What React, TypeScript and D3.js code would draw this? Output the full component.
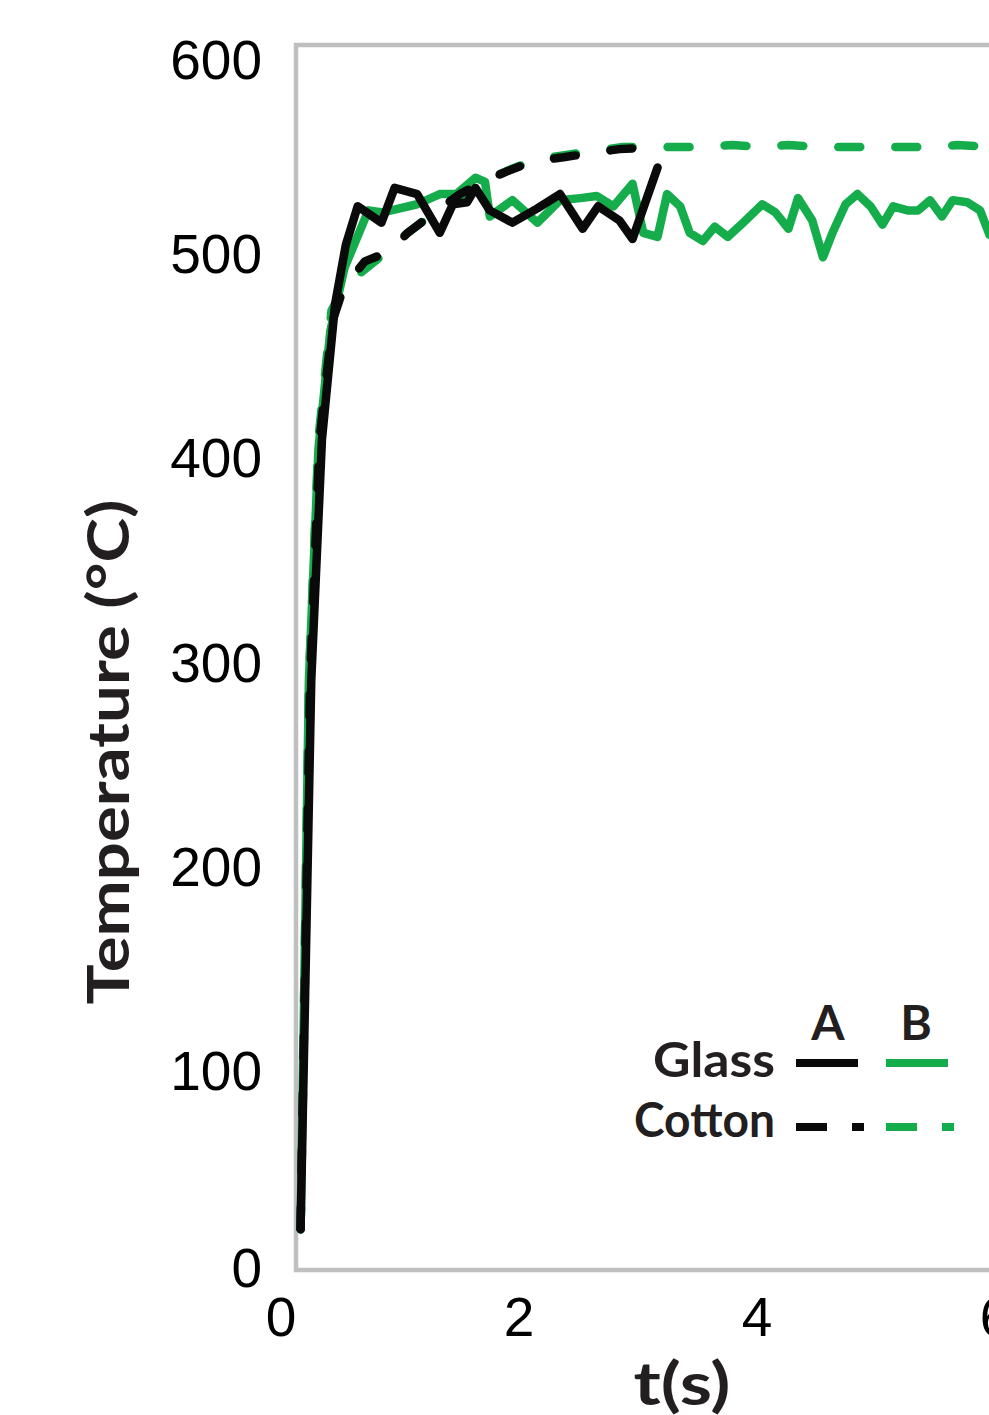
import * as d3 from 'd3';

// time (s) and temperature (°C)
const glassA_t = [0.03, 0.12, 0.21, 0.32, 0.41, 0.51, 0.71, 0.82, 1.01, 1.2, 1.31, 1.43, 1.5, 1.62, 1.81, 2.02, 2.21, 2.4, 2.53, 2.71, 2.82, 3.03];
const glassA_T = [20, 289, 407, 473, 502, 521, 513, 530, 527, 508, 522, 523, 530, 519, 513, 520, 527, 510, 521, 514, 505, 540];

const glassB_t = [0.03, 0.1, 0.18, 0.28, 0.4, 0.6, 0.72, 1.01, 1.2, 1.34, 1.5, 1.58, 1.62, 1.81, 2.02, 2.21, 2.38, 2.52, 2.66, 2.82, 2.91, 3.03, 3.11, 3.22, 3.3, 3.41, 3.51, 3.62, 3.75, 3.91, 4.02, 4.13, 4.21, 4.33, 4.42, 4.5, 4.61, 4.71, 4.82, 4.92, 5.01, 5.13, 5.22, 5.32, 5.42, 5.51, 5.63, 5.74, 5.82, 5.91];
const glassB_T = [20, 289, 402, 460, 491, 519, 518, 522, 527, 527, 535, 533, 516, 524, 513, 524, 525, 526, 521, 532, 508, 506, 527, 521, 508, 504, 511, 506, 513, 522, 518, 510, 525, 514, 496, 508, 522, 527, 521, 512, 521, 519, 519, 524, 516, 524, 523, 519, 507, 505];

const cottonA_t = [0.03, 0.11, 0.19, 0.3, 0.39, 0.57, 0.78, 0.93, 1.18, 1.37, 1.56, 1.76, 1.98, 2.24, 2.46, 2.71, 3.01];
const cottonA_T = [20, 289, 407, 465, 481, 494, 499, 508, 519, 527, 533, 538, 543, 545, 547, 549, 550];

const cottonB_t = [0.03, 0.1, 0.18, 0.29, 0.4, 0.59, 0.78, 0.93, 1.18, 1.37, 1.56, 1.79, 2.01, 2.25, 2.48, 2.74, 3.05, 3.39, 3.66, 3.89, 4.13, 4.4, 4.73, 5.07, 5.32, 5.55, 5.82, 5.91];
const cottonB_T = [20, 289, 407, 470, 482, 491, 500, 508, 519, 526, 533, 539, 544, 546, 548, 550, 550, 550, 551, 550, 551, 550, 550, 550, 550, 551, 550, 550];

const yTicks = [0, 100, 200, 300, 400, 500, 600];
const xTicks = [0, 2, 4, 6];

const GREEN = '#15ad4b';
const BLACK = '#0a0a0a';
const BOLD = 'Lato, "DejaVu Sans", sans-serif';

export default function App() {
  const x = d3.scaleLinear().domain([0, 6]).range([297, 1011]);
  const y = d3.scaleLinear().domain([0, 600]).range([1270, 45]);

  const line = d3
    .line<[number, number]>()
    .x((d) => x(d[0]))
    .y((d) => y(d[1]));

  const series = [
    { key: 'gB', t: glassB_t, v: glassB_T, color: GREEN, dash: null },
    { key: 'cB', t: cottonB_t, v: cottonB_T, color: GREEN, dash: '22 35' },
    { key: 'gA', t: glassA_t, v: glassA_T, color: BLACK, dash: null },
    { key: 'cA', t: cottonA_t, v: cottonA_T, color: BLACK, dash: '22 35' },
  ];

  // baseline of a y tick label, kept inside the frame's span
  const labY = (v: number) => Math.min(Math.max(y(v) + 24, 79), 1287);

  return (
    <svg
      width={989}
      height={1415}
      style={{ position: 'absolute', left: 0, top: 0, background: '#fff' }}
    >
      <rect
        x={x(0) - 1}
        y={y(600)}
        width={900}
        height={y(0) - y(600)}
        fill="none"
        stroke="#bfbfbf"
        strokeWidth={4.5}
      />

      {series.map((s) => (
        <path
          key={s.key}
          d={line(d3.zip(s.t, s.v) as [number, number][]) || ''}
          fill="none"
          stroke={s.color}
          strokeWidth={8.5}
          strokeLinecap="round"
          strokeLinejoin="round"
          strokeDasharray={s.dash || undefined}
        />
      ))}

      {yTicks.map((v) => (
        <text
          key={'y' + v}
          x={262}
          y={labY(v)}
          textAnchor="end"
          fontFamily='"Liberation Sans", Arial, sans-serif'
          fontSize={55}
          fill="#000"
        >
          {v}
        </text>
      ))}
      {xTicks.map((v) => (
        <text
          key={'x' + v}
          x={x(v) - 16}
          y={1336}
          textAnchor="middle"
          fontFamily='"Liberation Sans", Arial, sans-serif'
          fontSize={55}
          fill="#000"
        >
          {v}
        </text>
      ))}

      <text
        transform="translate(129,752) rotate(-90)"
        textAnchor="middle"
        fontFamily={BOLD}
        fontWeight={700}
        fontSize={58}
        fill="#231f20"
        textLength={505}
        lengthAdjust="spacingAndGlyphs"
      >
        Temperature (°C)
      </text>
      <text
        x={682}
        y={1405}
        textAnchor="middle"
        fontFamily={BOLD}
        fontWeight={700}
        fontSize={60}
        fill="#231f20"
        textLength={97}
        lengthAdjust="spacingAndGlyphs"
      >
        t(s)
      </text>

      {/* legend */}
      <g fontFamily={BOLD} fontWeight={700} fontSize={48} fill="#231f20">
        <text x={828} y={1040} textAnchor="middle">A</text>
        <text x={916} y={1040} textAnchor="middle">B</text>
        <text x={775} y={1077} textAnchor="end" textLength={122} lengthAdjust="spacingAndGlyphs">Glass</text>
        <text x={775} y={1137} textAnchor="end" textLength={141} lengthAdjust="spacingAndGlyphs">Cotton</text>
      </g>
      <line x1={796} x2={858} y1={1063} y2={1063} stroke={BLACK} strokeWidth={8} />
      <line x1={886} x2={948} y1={1063} y2={1063} stroke={GREEN} strokeWidth={8} />
      <line x1={796} x2={864} y1={1127} y2={1127} stroke={BLACK} strokeWidth={8} strokeDasharray="31 25" />
      <line x1={886} x2={954} y1={1127} y2={1127} stroke={GREEN} strokeWidth={8} strokeDasharray="31 25" />
    </svg>
  );
}
